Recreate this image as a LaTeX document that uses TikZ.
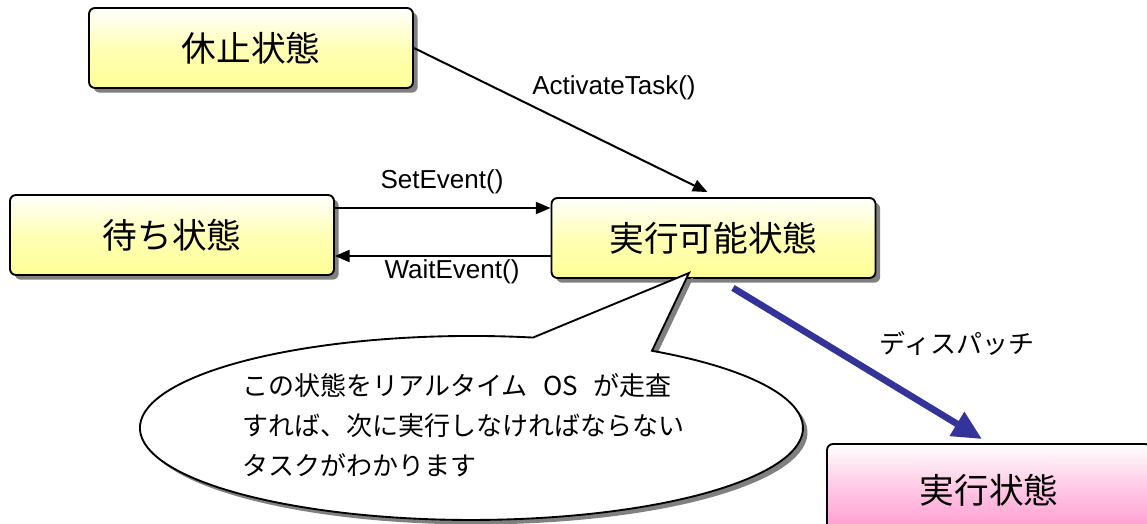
\documentclass[tikz,border=0pt]{standalone}
\usepackage{fontspec}
\setmainfont{Liberation Sans}
\newfontfamily\jp{Noto Sans CJK JP}
\usetikzlibrary{arrows.meta,calc,shadows}
\definecolor{boxyellow}{RGB}{255,255,150}
\definecolor{boxpink}{RGB}{255,150,205}
\definecolor{dispblue}{RGB}{51,51,153}
\definecolor{shadowgray}{RGB}{128,128,128}
\tikzset{
  state/.style={draw=black, line width=1.4pt, rounded corners=4.5pt,
    minimum width=243pt, minimum height=60pt, inner sep=0pt,
    font=\jp\fontsize{26}{30}\selectfont,
    drop shadow={shadow xshift=3.5pt, shadow yshift=-3.5pt, fill=shadowgray, opacity=1}},
  ystate/.style={state, top color=white, bottom color=boxyellow, middle color=boxyellow!70!white},
  pstate/.style={state, top color=white, bottom color=boxpink, middle color=boxpink!55!white},
  arr/.style={line width=1.5pt, -{Triangle[length=11pt,width=9pt]}},
  lbl/.style={font=\fontsize{19.5}{22}\selectfont, inner sep=0pt},
  jlbl/.style={font=\jp\fontsize{19.5}{22}\selectfont, inner sep=0pt},
  jtext/.style={font=\jp\fontsize{19.5}{30}\selectfont, inner sep=0pt, align=left},
  disp/.style={draw=dispblue, line width=5pt, -{Triangle[length=22pt,width=20pt]}},
}
\begin{document}
\begin{tikzpicture}[x=0.75pt,y=-0.75pt]
\useasboundingbox (0,0) rectangle (1147,524);
% states
\node[ystate] (rest) at (251,48) {休止状態};
\node[ystate] (wait) at (172,235) {待ち状態};
\node[ystate] (ready) at (713.5,238) {実行可能状態};
\node[pstate, minimum height=69pt] (run) at (989,490) {実行状態};
% connectors
\draw[arr] (rest.east) -- ($(ready.north)+(-6,-5)$);
\draw[arr] ([yshift=20.25pt]wait.east) -- ([yshift=20.25pt]wait.east -| ready.west);
\draw[arr] ([yshift=-15.75pt]wait.east -| ready.west) -- ([yshift=-15.75pt]wait.east);
\draw[disp] ($(ready.south)+(19.5,9)$) -- ($(run.north)+(-7,-4)$);
% labels
\node[lbl] (lact) at (614,88) {ActivateTask()};
\node[lbl] (lset) at (442,182) {SetEvent()};
\node[lbl] (lwait) at (452,272) {WaitEvent()};
\node[jlbl] (ldisp) at (957,343) {ディスパッチ};
% callout
\begin{scope}[shift={(4.5,4.5)}]
\fill[shadowgray] (652,350.8) arc[start angle=-57, end angle=280.7, x radius=331.5, y radius=92] -- (689,273) -- cycle;
\end{scope}
\filldraw[fill=white, draw=black, line width=1.4pt, line join=miter] (652,350.8) arc[start angle=-57, end angle=280.7, x radius=331.5, y radius=92] -- (689,273) -- cycle;
\node[jtext, anchor=west] (note) at (242,425) {この状態をリアルタイム\hspace{0.6em}OS\hspace{0.6em}が走査\\すれば、次に実行しなければならない\\タスクがわかります};
\end{tikzpicture}
\end{document}
